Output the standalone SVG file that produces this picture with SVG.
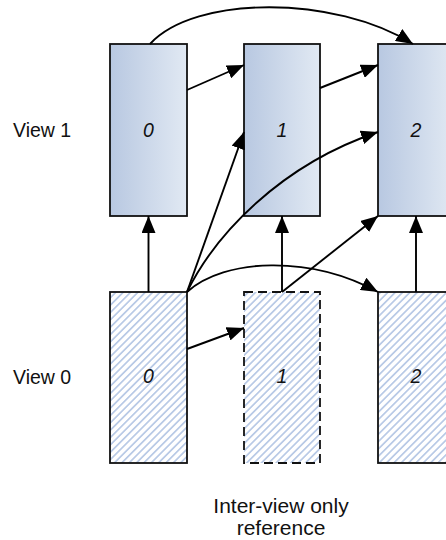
<svg xmlns="http://www.w3.org/2000/svg" width="446" height="540" viewBox="0 0 446 540">
<style>
.box{stroke:#111;stroke-width:1.8}
.lbl{font-family:"Liberation Sans",Arial,sans-serif;fill:#111}
.num{font-family:"Liberation Sans",Arial,sans-serif;font-style:italic;font-size:19.5px;fill:#111;text-anchor:middle}
.con path{fill:none;stroke:#000;stroke-width:1.9;marker-end:url(#ah)}
</style>
<defs>
<linearGradient id="g" x1="0" y1="0" x2="1" y2="0">
<stop offset="0" stop-color="#b8c8e1"/>
<stop offset="1" stop-color="#e1e9f3"/>
</linearGradient>
<pattern id="h" width="5.2" height="5.2" patternUnits="userSpaceOnUse" patternTransform="rotate(-45)">
<rect width="5.2" height="5.2" fill="#fff"/>
<line x1="0" y1="2.6" x2="5.2" y2="2.6" stroke="#9ab3dc" stroke-width="1.2"/>
</pattern>
<marker id="ah" markerUnits="userSpaceOnUse" markerWidth="18" markerHeight="14" refX="17" refY="7" orient="auto">
<path d="M0,0 L17,7 L0,14 z" fill="#000"/>
</marker>
</defs>
<rect width="446" height="540" fill="#fff"/>
<g id="label-view1"><text class="lbl" x="13" y="137" font-size="19.5">View 1</text></g>
<g id="label-view0"><text class="lbl" x="13" y="384" font-size="19.5">View 0</text></g>
<g id="v1-0"><rect class="box" x="110" y="44" width="77" height="172" fill="url(#g)"/><text class="num" x="148.5" y="137">0</text></g>
<g id="v1-1"><rect class="box" x="244" y="44" width="76" height="172" fill="url(#g)"/><text class="num" x="282" y="137">1</text></g>
<g id="v1-2"><rect class="box" x="378" y="44" width="76" height="172" fill="url(#g)"/><text class="num" x="416" y="137">2</text></g>
<g id="v0-0"><rect class="box" x="110" y="292" width="77" height="171" fill="url(#h)"/><text class="num" x="148.5" y="383">0</text></g>
<g id="v0-1"><rect class="box" x="244" y="292" width="76" height="171" fill="url(#h)" stroke-dasharray="9,5"/><text class="num" x="282" y="383">1</text></g>
<g id="v0-2"><rect class="box" x="378" y="292" width="76" height="171" fill="url(#h)"/><text class="num" x="416" y="383">2</text></g>
<g class="con" id="connectors">
<path d="M150,44 C195,-5 335,-5 413,44"/>
<path d="M187,90 L244,65"/>
<path d="M320,88 L378,65"/>
<path d="M187,292 L244,132"/>
<path d="M187,292 C215,235 280,165 378,132"/>
<path d="M148.5,292 L148.5,216"/>
<path d="M282,292 L282,216"/>
<path d="M416,292 L416,216"/>
<path d="M187,292 C225,258 310,255 378,292"/>
<path d="M187,349 L244,328"/>
<path d="M282,292 L378,216"/>
</g>
<g id="caption"><text class="lbl" x="281" y="513" font-size="21" text-anchor="middle">Inter-view only</text><text class="lbl" x="281" y="535" font-size="21" text-anchor="middle">reference</text></g>
</svg>
